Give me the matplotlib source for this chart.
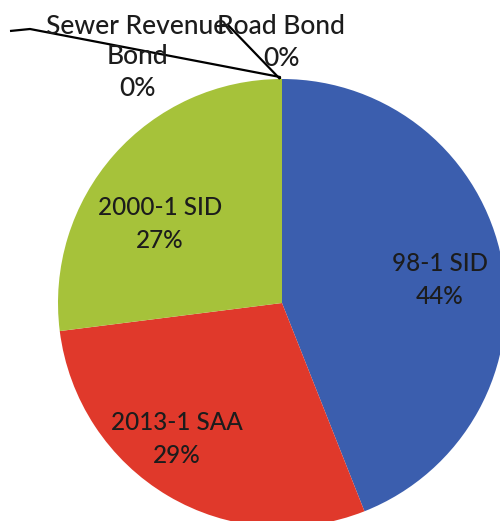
import matplotlib.pyplot as plt

# Debt share by issue
names = ["98-1 SID", "2013-1 SAA", "2000-1 SID", "Sewer Revenue\nBond", "Road Bond"]
shares = [44, 29, 27, 0, 0]
colors = ["#3B5EAE", "#E0392B", "#A6C23A", "#7F7F7F", "#F79646"]

W, H = 500, 521

fig = plt.figure(figsize=(W / 100, H / 100), dpi=100)
ax = fig.add_axes([0, 0, 1, 1])

# pie in pixel space; y axis is flipped so counterclock=True runs clockwise on screen
cx, cy, r = 282, 303, 224
ax.pie(shares, colors=colors, startangle=-90, counterclock=True,
       center=(cx, cy), radius=r, frame=True,
       wedgeprops=dict(linewidth=0))
ax.set_xlim(0, W)
ax.set_ylim(H, 0)
ax.set_aspect("equal")
ax.axis("off")

font = "Lato"
ink = "#1c1c1c"

# labels inside the big slices
inner_pos = [(440, 280), (177, 439), (160, 224)]
for i, (x, y) in enumerate(inner_pos):
    ax.text(x, y, "{}\n{}%".format(names[i], shares[i]), ha="center", va="center",
            fontsize=17.5, family=font, weight="medium", color=ink, linespacing=1.55)

# outside labels for the empty slices
ax.text(137, 57, "{}\n{}%".format(names[3], shares[3]), ha="center", va="center",
        fontsize=19, family=font, weight="medium", color=ink, linespacing=1.3)
ax.text(281, 42, "{}\n{}%".format(names[4], shares[4]), ha="center", va="center",
        fontsize=19, family=font, weight="medium", color=ink, linespacing=1.35)

# leader lines to the top of the pie
ax.plot([10, 30, cx - 2, cx - 2], [31, 29, 77, 79], color="black", lw=1.6,
        solid_capstyle="butt")
ax.plot([228, cx - 2], [25, 79], color="black", lw=1.6, solid_capstyle="butt")

fig.savefig("out.png", dpi=100)
